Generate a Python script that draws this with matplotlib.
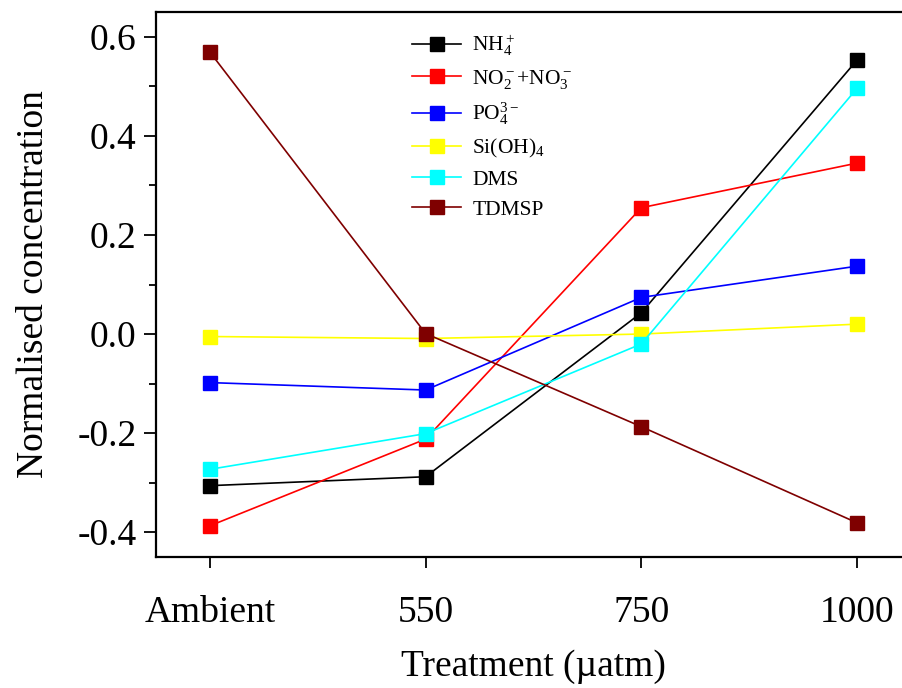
import matplotlib
matplotlib.use("Agg")
import matplotlib.pyplot as plt
from matplotlib.ticker import MultipleLocator

plt.rcParams['font.family'] = ['Liberation Serif', 'DejaVu Serif']
plt.rcParams['mathtext.fontset'] = 'custom'
plt.rcParams['mathtext.rm'] = 'Liberation Serif'
plt.rcParams['mathtext.it'] = 'Liberation Serif:italic'

# treatments on the x axis
treatments = ["Ambient", "550", "750", "1000"]

# normalised concentrations
nh4 = [-0.306, -0.288, 0.043, 0.553]
no2_no3 = [-0.387, -0.212, 0.255, 0.345]
po4 = [-0.098, -0.113, 0.074, 0.137]
sioh4 = [-0.005, -0.009, 0.0, 0.020]
dms = [-0.273, -0.201, -0.020, 0.496]
tdmsp = [0.569, 0.001, -0.187, -0.381]

labels = [r"NH$_4^+$", r"NO$_2^-$+NO$_3^-$", r"PO$_4^{3-}$", r"Si(OH)$_4$", "DMS", "TDMSP"]
colors = ["#000000", "#ff0000", "#0000ff", "#ffff00", "#00ffff", "#7f0000"]
series = [nh4, no2_no3, po4, sioh4, dms, tdmsp]

fig = plt.figure(figsize=(9.03, 6.88), dpi=100)
# axes runs past the right edge of the picture, as in the original
ax = fig.add_axes([156 / 903, 1 - 557 / 688, (911 - 156) / 903, (557 - 12) / 688])

x = list(range(len(treatments)))
for vals, lab, col in zip(series, labels, colors):
    ax.plot(x, vals, color=col, lw=1.2, marker='s', ms=9.5,
            mec=col, mfc=col, label=lab)

ax.set_xlim(-0.25, 3.25)
ax.set_ylim(-0.45, 0.65)
ax.set_xticks(x)
ax.set_xticklabels(treatments)
ax.yaxis.set_major_locator(MultipleLocator(0.2))
ax.yaxis.set_minor_locator(MultipleLocator(0.1))
ax.set_yticks([-0.4, -0.2, 0.0, 0.2, 0.4, 0.6])
ax.set_yticklabels(["-0.4", "-0.2", "0.0", "0.2", "0.4", "0.6"])

for s in ax.spines.values():
    s.set_linewidth(1.6)

ax.tick_params(axis='x', direction='out', length=8, width=1.3, pad=20,
               labelsize=27, top=False)
ax.tick_params(axis='y', which='major', direction='out', length=9, width=1.3,
               pad=5, labelsize=27, right=False)
ax.tick_params(axis='y', which='minor', direction='out', length=5, width=1.3,
               right=False)

ax.set_xlabel("Treatment (µatm)", fontsize=27, labelpad=14)
ax.set_ylabel("Normalised concentration", fontsize=27, labelpad=19)

ax.legend(loc='upper left', bbox_to_anchor=(0.339, 0.962), frameon=False,
          fontsize=15.5, handlelength=2.3, handletextpad=0.5,
          labelspacing=0.45, borderpad=0, borderaxespad=0)

fig.savefig("out.png", dpi=100)
